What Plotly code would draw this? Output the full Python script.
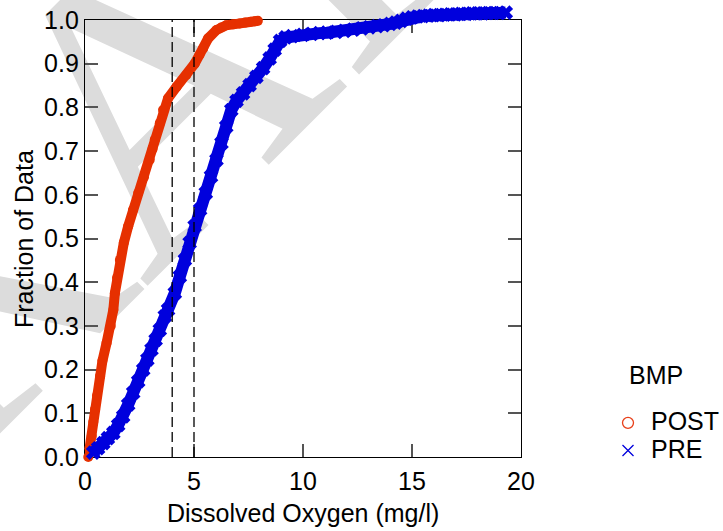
import plotly.graph_objects as go

# Cumulative distribution of dissolved oxygen, before and after the BMP
POST_DO = [0.15, 0.20, 0.31, 0.38, 0.46, 0.55, 0.69, 0.80, 0.99, 1.18, 1.30, 1.37,
           1.47, 1.60, 1.78, 1.98, 2.20, 2.44, 2.70, 2.97, 3.10, 3.20, 3.43, 3.58,
           3.81, 4.20, 4.65, 5.03, 5.25, 5.42, 5.65, 6.03, 6.25, 6.48, 6.80, 7.10,
           7.35, 7.60, 7.80, 7.93]
POST_FRAC = [0.000, 0.020, 0.048, 0.080, 0.109, 0.140, 0.185, 0.220, 0.261, 0.300,
             0.337, 0.375, 0.410, 0.451, 0.490, 0.528, 0.565, 0.604, 0.640, 0.680,
             0.705, 0.726, 0.764, 0.794, 0.821, 0.847, 0.874, 0.900, 0.920, 0.935,
             0.958, 0.977, 0.983, 0.988, 0.990, 0.992, 0.994, 0.996, 0.997, 0.998]

PRE_DO = [0.38, 0.60, 0.84, 1.05, 1.30, 1.52, 1.75, 1.98, 2.21, 2.44, 2.67, 2.86,
          3.05, 3.24, 3.43, 3.66, 3.81, 4.12, 4.35, 4.58, 4.80, 5.03, 5.28, 5.54,
          5.78, 6.03, 6.26, 6.48, 6.71, 6.95, 7.25, 7.55, 7.86, 8.17, 8.47, 8.70,
          8.95, 9.20, 9.50, 9.99, 10.40, 10.75, 11.10, 11.52, 11.90, 12.30, 12.70,
          13.04, 13.40, 13.70, 14.00, 14.25, 14.50, 14.75, 15.00, 15.25, 15.50,
          15.75, 16.00, 16.25, 16.50, 16.75, 17.00, 17.25, 17.50, 17.75, 18.00,
          18.25, 18.50, 18.75, 19.00, 19.30]
PRE_FRAC = [0.010, 0.020, 0.032, 0.043, 0.055, 0.073, 0.093, 0.120, 0.147, 0.173,
            0.200, 0.223, 0.246, 0.268, 0.291, 0.322, 0.337, 0.375, 0.413, 0.451,
            0.490, 0.528, 0.566, 0.604, 0.642, 0.680, 0.718, 0.756, 0.794, 0.815,
            0.832, 0.851, 0.870, 0.890, 0.912, 0.932, 0.952, 0.960, 0.963, 0.966,
            0.968, 0.970, 0.971, 0.973, 0.975, 0.978, 0.981, 0.983, 0.986, 0.988,
            0.991, 0.994, 0.998, 1.003, 1.006, 1.008, 1.009, 1.010, 1.011, 1.011,
            1.012, 1.013, 1.013, 1.014, 1.014, 1.015, 1.015, 1.015, 1.016, 1.016,
            1.016, 1.017]

GROUPS = ["POST", "PRE"]
LEGEND_TITLE = "BMP"
REF_LEVELS = [4, 5]          # dissolved-oxygen reference levels (mg/l)
X_RANGE = [0, 20]
Y_RANGE = [0, 1]
X_TICKS = [0, 5, 10, 15, 20]
Y_TICKS = [round(0.1 * i, 1) for i in range(11)]

RED = "#E63000"
BLUE = "#0000DD"
FONT = "Liberation Sans, Arial, sans-serif"

W, H = 723, 531
M_L, M_R, M_T, M_B = 85, 202, 6, 74
AREA_H = H - M_T - M_B                # full plotting area (px)
FRAME_H = 437                         # framed axes height (px)
FRAME_TOP = FRAME_H / AREA_H          # framed axes occupy the lower part of the area
# data axes span the whole area with the same scale, so points just above 1.0 still show
Y_DATA_RANGE = [Y_RANGE[0], Y_RANGE[0] + (Y_RANGE[1] - Y_RANGE[0]) / FRAME_TOP]

fig = go.Figure()

# Data bands: thick line through the sorted observations plus their markers
fig.add_trace(go.Scatter(
    x=POST_DO, y=POST_FRAC, xaxis="x2", yaxis="y2", mode="lines+markers",
    cliponaxis=False, line=dict(color=RED, width=10),
    marker=dict(symbol="circle", size=10, color=RED, line=dict(width=0)),
    showlegend=False, hoverinfo="skip"))
fig.add_trace(go.Scatter(
    x=PRE_DO, y=PRE_FRAC, xaxis="x2", yaxis="y2", mode="lines+markers",
    cliponaxis=False, line=dict(color=BLUE, width=12),
    marker=dict(symbol="x", size=13, color=BLUE, line=dict(width=0)),
    showlegend=False, hoverinfo="skip"))

# Legend entries
legend_text = '<span style="font-size:25px">{}</span>'
fig.add_trace(go.Scatter(
    x=[None], y=[None], mode="markers", name=legend_text.format(GROUPS[0]),
    marker=dict(symbol="circle-open", size=11, color="#E8401A", line=dict(width=1.3))))
fig.add_trace(go.Scatter(
    x=[None], y=[None], mode="markers", name=legend_text.format(GROUPS[1]),
    marker=dict(symbol="x-thin-open", size=11, color=BLUE, line=dict(width=1.3))))

# Dashed reference lines
for lvl in REF_LEVELS:
    fig.add_shape(type="line", xref="x", yref="y", x0=lvl, x1=lvl,
                  y0=Y_RANGE[0], y1=Y_RANGE[1],
                  line=dict(color="black", width=1.3, dash="10px,5px"), layer="above")

# Background watermark
fig.add_shape(type="rect", xref="paper", yref="paper",
              x0=0.0, x1=0.02, y0=0.80, y1=0.82,
              line=dict(width=0), fillcolor="rgba(0,0,0,0)", layer="below",
              label=dict(text="DRAFT", textangle=-45, textposition="middle center",
                         font=dict(family="Liberation Serif, serif", size=400,
                                   color="#DCDCDC")))

axis_common = dict(
    showgrid=False, zeroline=False, showline=True, linecolor="black", linewidth=1.3,
    mirror="ticks", ticks="inside", ticklen=13, tickwidth=1.5, tickcolor="#555555",
    tickfont=dict(family=FONT, size=25, color="black"),
)

fig.update_layout(
    width=W, height=H,
    margin=dict(l=M_L, r=M_R, t=M_T, b=M_B, autoexpand=False),
    paper_bgcolor="white", plot_bgcolor="rgba(0,0,0,0)",
    font=dict(family=FONT, size=25, color="black"),
    xaxis=dict(range=X_RANGE, domain=[0, 1], tickvals=X_TICKS,
               ticktext=[str(v) for v in X_TICKS], ticklabelstandoff=2, **axis_common),
    yaxis=dict(range=Y_RANGE, domain=[0, FRAME_TOP], tickvals=Y_TICKS,
               ticktext=[f"{v:.1f}" for v in Y_TICKS], ticklabelstandoff=0, **axis_common),
    xaxis2=dict(range=X_RANGE, domain=[0, 1], anchor="y2", visible=False),
    yaxis2=dict(range=Y_DATA_RANGE, domain=[0, 1], anchor="x2", visible=False),
    legend=dict(x=(605 - M_L) / (W - M_L - M_R), y=(M_T + AREA_H - 404) / AREA_H,
                xanchor="left", yanchor="top",
                font=dict(family=FONT, size=19, color="black"),
                bgcolor="rgba(0,0,0,0)", itemwidth=36, tracegroupgap=0),
)

# Axis titles and legend heading
fig.add_annotation(text="Dissolved Oxygen (mg/l)", xref="paper", yref="paper",
                   x=0.5, y=(M_T + AREA_H - 513) / AREA_H, xanchor="center",
                   yanchor="middle", showarrow=False,
                   font=dict(family=FONT, size=25, color="black"))
fig.add_annotation(text="Fraction of Data", xref="paper", yref="paper",
                   x=(24 - M_L) / (W - M_L - M_R), y=(M_T + AREA_H - 239) / AREA_H,
                   xanchor="center", yanchor="middle", textangle=-90,
                   showarrow=False, font=dict(family=FONT, size=25, color="black"))
fig.add_annotation(text=LEGEND_TITLE, xref="paper", yref="paper",
                   x=(627 - M_L) / (W - M_L - M_R), y=(M_T + AREA_H - 375) / AREA_H,
                   xanchor="left", yanchor="middle", showarrow=False,
                   font=dict(family=FONT, size=25, color="black"))

fig.write_html("out.html")
